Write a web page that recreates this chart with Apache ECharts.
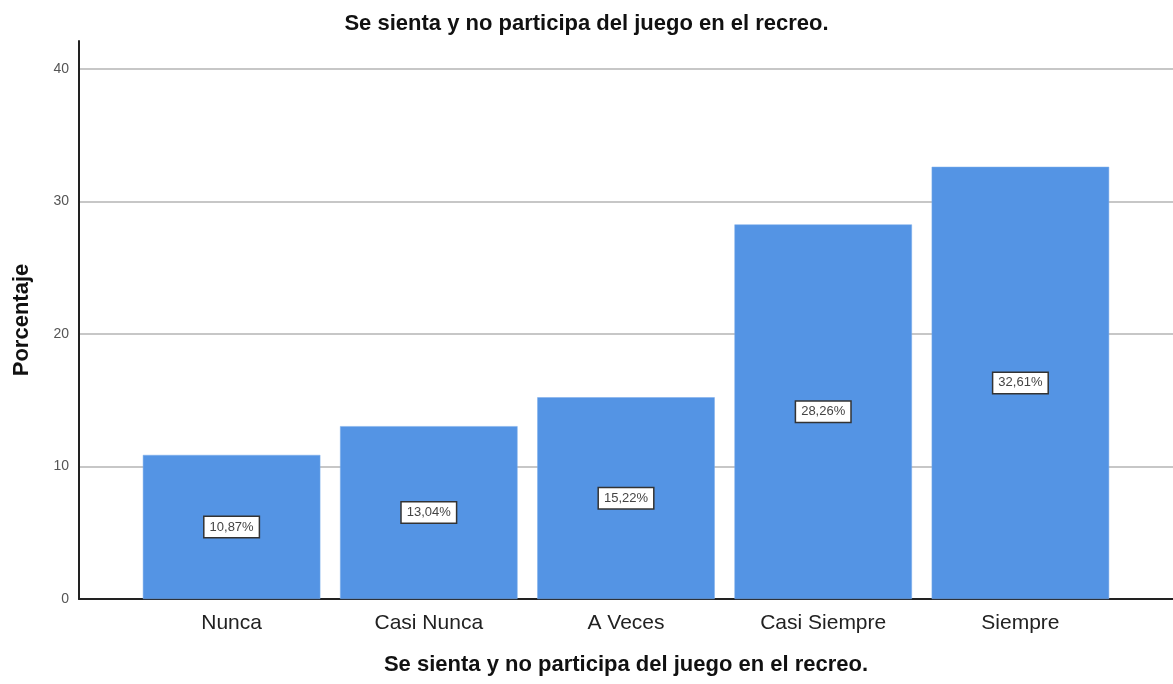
<!DOCTYPE html>
<html>
<head>
<meta charset="utf-8">
<script src="https://cdn.jsdelivr.net/npm/echarts@6/dist/echarts.min.js"></script>
<style>
  html, body { margin: 0; padding: 0; background: #fff; }
  #chart { width: 1173px; height: 684px; }
</style>
</head>
<body>
<div id="chart"></div>
<script>
const titleText = 'Se sienta y no participa del juego en el recreo.';
const categories = ['Nunca', 'Casi Nunca', 'A Veces', 'Casi Siempre', 'Siempre'];
const percentages = [10.87, 13.04, 15.22, 28.26, 32.61];
const yTicks = [0, 10, 20, 30, 40];
const yMax = 42.1;

const fontFamily = '"Liberation Sans", Arial, sans-serif';
const chart = echarts.init(document.getElementById('chart'));

chart.setOption({
  animation: false,
  backgroundColor: '#fff',
  title: {
    text: titleText,
    left: 'center',
    top: 8,
    textStyle: { fontFamily, fontSize: 22, fontWeight: 'bold', color: '#111' }
  },
  grid: [
    // frame: axes and gridlines
    { left: 79, right: 0, top: 41, bottom: 85 },
    // bars
    { left: 133, right: 54, top: 41, bottom: 85 }
  ],
  xAxis: [
    {
      gridIndex: 0, type: 'value', min: 0, max: 1,
      axisLine: { show: true, lineStyle: { color: '#222', width: 2 } },
      axisTick: { show: false }, axisLabel: { show: false }, splitLine: { show: false },
      name: titleText, nameLocation: 'middle', nameGap: 55,
      nameTextStyle: { fontFamily, fontSize: 22, fontWeight: 'bold', color: '#111' }
    },
    {
      gridIndex: 1, type: 'category', data: categories,
      axisLine: { show: false }, axisTick: { show: false },
      axisLabel: { fontFamily, fontSize: 21, color: '#222', margin: 14 }
    }
  ],
  yAxis: [
    {
      gridIndex: 0, type: 'value', min: 0, max: yMax, interval: 10,
      axisLine: { show: true, lineStyle: { color: '#222', width: 2 } },
      axisTick: { show: false },
      axisLabel: {
        fontFamily, fontSize: 14, color: '#555', margin: 10, showMaxLabel: false,
        formatter: v => yTicks.includes(v) ? String(v) : ''
      },
      splitLine: { show: true, showMaxLine: false, lineStyle: { color: '#b4b4b4', width: 1.5 } },
      name: 'Porcentaje', nameLocation: 'middle', nameGap: 46, nameRotate: 90,
      nameTextStyle: { fontFamily, fontSize: 22, fontWeight: 'bold', color: '#111' }
    },
    {
      gridIndex: 1, type: 'value', min: 0, max: yMax, show: false
    }
  ],
  series: [{
    type: 'bar',
    xAxisIndex: 1, yAxisIndex: 1,
    data: percentages,
    barCategoryGap: '10%',
    itemStyle: { color: '#5494e4', borderColor: '#7aacea', borderWidth: 0.5 },
    label: {
      show: true,
      position: 'inside',
      formatter: p => p.value.toFixed(2).replace('.', ',') + '%',
      fontFamily, fontSize: 13, color: '#444',
      backgroundColor: '#fff', borderColor: '#333', borderWidth: 1.5,
      padding: [4, 5, 3, 5]
    }
  }]
});
</script>
</body>
</html>
